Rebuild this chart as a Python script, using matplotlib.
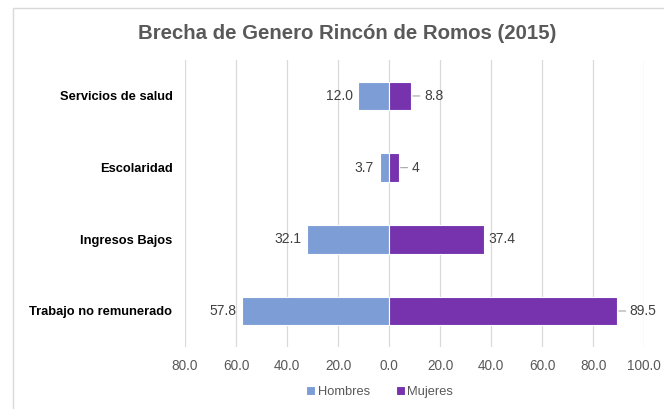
import matplotlib.pyplot as plt
from matplotlib.patches import Rectangle
from matplotlib.ticker import FuncFormatter

plt.rcParams['font.family'] = ['Liberation Sans', 'DejaVu Sans']

# Datos
categorias = ['Servicios de salud', 'Escolaridad', 'Ingresos Bajos', 'Trabajo no remunerado']
hombres = [12.0, 3.7, 32.1, 57.8]
mujeres = [8.8, 4.0, 37.4, 89.5]
etiquetas_hombres = ['12.0', '3.7', '32.1', '57.8']
etiquetas_mujeres = ['8.8', '4', '37.4', '89.5']
ticks = [-80, -60, -40, -20, 0, 20, 40, 60, 80, 100]

color_h = '#7C9DD6'
color_m = '#7633AD'

fig = plt.figure(figsize=(6.64, 4.09), dpi=100)
ax = fig.add_axes([0.2786, 0.152, 0.6914, 0.701])

# marco del grafico
fig.patches.append(Rectangle((13 / 664, -0.05), 1.0, 1 - 8 / 409 + 0.05,
                             transform=fig.transFigure, fill=False,
                             edgecolor='#D9D9D9', linewidth=1.0))

y = list(range(len(categorias)))
ax.barh(y, [-v for v in hombres], height=0.4, color=color_h, edgecolor='white',
        linewidth=0.8, label='Hombres', zorder=3)
ax.barh(y, mujeres, height=0.4, color=color_m, edgecolor='white',
        linewidth=0.8, label='Mujeres', zorder=3)

# etiquetas de datos
for i in y:
    ax.annotate(etiquetas_hombres[i], (-hombres[i], i), xytext=(-4, 0),
                textcoords='offset points', ha='right', va='center',
                fontsize=10, color='#404040')
    con_linea = mujeres[i] < 10 or mujeres[i] > 80
    if con_linea:
        ax.annotate(etiquetas_mujeres[i], (mujeres[i], i), xytext=(9, 0),
                    textcoords='offset points', ha='left', va='center',
                    fontsize=10, color='#404040',
                    arrowprops=dict(arrowstyle='-', color='#A6A6A6', lw=0.8,
                                    shrinkA=1, shrinkB=1))
    else:
        ax.annotate(etiquetas_mujeres[i], (mujeres[i], i), xytext=(3, 0),
                    textcoords='offset points', ha='left', va='center',
                    fontsize=10, color='#404040')

ax.set_xlim(-80, 100)
ax.set_ylim(len(categorias) - 0.5, -0.5)
ax.set_xticks(ticks)
ax.xaxis.set_major_formatter(FuncFormatter(lambda v, p: f'{abs(v):.1f}'))
ax.set_yticks(y)
ax.set_yticklabels(categorias, fontweight='bold', fontsize=9.3, color='black')
ax.tick_params(axis='x', length=0, labelsize=9.8, labelcolor='#595959', pad=9)
ax.tick_params(axis='y', length=0, pad=9)
ax.grid(axis='x', color='#D9D9D9', linewidth=0.9, zorder=0)
for s in ax.spines.values():
    s.set_visible(False)

fig.text(0.523, 0.918, 'Brecha de Genero Rincón de Romos (2015)', ha='center',
         va='center', fontsize=14.7, fontweight='bold', color='#595959')

fig.legend(loc='center', bbox_to_anchor=(0.572, 0.042), ncol=2, frameon=False,
           fontsize=9.3, labelcolor='#595959', handlelength=0.7, handleheight=0.7,
           handletextpad=0.2, columnspacing=2.0)

fig.savefig('out.png', dpi=100)
